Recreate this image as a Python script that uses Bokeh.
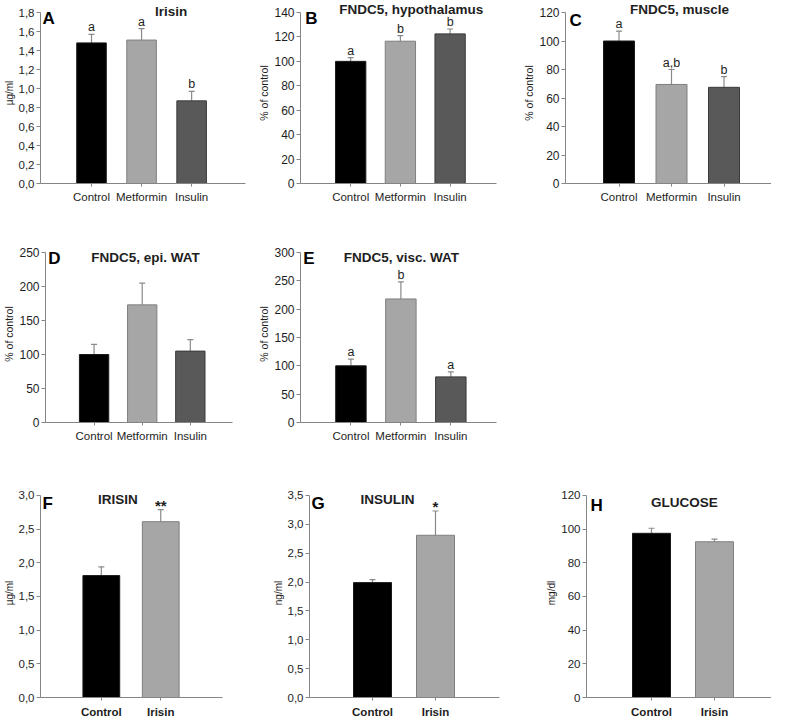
from bokeh.plotting import figure
from bokeh.layouts import column, row
from bokeh.models import (Range1d, FixedTicker, CustomJSTickFormatter, ColumnDataSource,
                          Whisker, TeeHead, Spacer)
from bokeh.core.properties import value
from bokeh.embed import file_html
from bokeh.resources import INLINE

FONT = "Liberation Sans"

# ---------------- data ----------------
cats_treat = ["Control", "Metformin", "Insulin"]
cats_irisin = ["Control", "Irisin"]

a_vals = [1.48, 1.51, 0.87]
a_err = [0.09, 0.12, 0.10]
a_sig = ["a", "a", "b"]

b_vals = [100, 116.5, 122.5]
b_err = [3, 4.5, 4]
b_sig = ["a", "b", "b"]

c_vals = [100, 69.5, 67.5]
c_err = [7, 10.5, 7.5]
c_sig = ["a", "a,b", "b"]

d_vals = [100, 173, 105]
d_err = [15, 32, 17]
d_sig = ["", "", ""]

e_vals = [100, 218, 80.5]
e_err = [12, 30, 9]
e_sig = ["a", "b", "a"]

f_vals = [1.81, 2.61]
f_err = [0.13, 0.18]
f_sig = ["", "**"]

g_vals = [1.99, 2.81]
g_err = [0.05, 0.42]
g_sig = ["", "*"]

h_vals = [97.5, 92.5]
h_err = [3, 1.5]
h_sig = ["", ""]

ticks_a = [0, 0.2, 0.4, 0.6, 0.8, 1.0, 1.2, 1.4, 1.6, 1.8]
ticks_b = [0, 20, 40, 60, 80, 100, 120, 140]
ticks_c = [0, 20, 40, 60, 80, 100, 120]
ticks_d = [0, 50, 100, 150, 200, 250]
ticks_e = [0, 50, 100, 150, 200, 250, 300]
ticks_f = [0, 0.5, 1.0, 1.5, 2.0, 2.5, 3.0]
ticks_g = [0, 0.5, 1.0, 1.5, 2.0, 2.5, 3.0, 3.5]
ticks_h = [0, 20, 40, 60, 80, 100, 120]

fill_treat = ["#000000", "#a6a6a6", "#595959"]
line_treat = ["#1a1a1a", "#7f7f7f", "#3a3a3a"]
fill_irisin = ["#000000", "#a6a6a6"]
line_irisin = ["#1a1a1a", "#7f7f7f"]

AXIS_COLOR = "#858585"
TEXT_COLOR = "#1e1e1e"
ERR_COLOR = "#8a8a8a"

comma_fmt = CustomJSTickFormatter(code="return tick.toFixed(1).replace('.', ',');")


def panel(fig, frame, axis_top, centers, bar_w, cats, vals, errs, sig, ticks,
          ylabel, title, title_pos, letter, letter_pos, fills, lines,
          comma=False, bold_cats=False, tick_size="12px", label_size="10.5px",
          xlab_standoff=4, sig_size="12.5px", sig_bold=False, sig_offset=0):
    fx, fy, fw, fh = fig
    fl, fr, ft, fb = frame
    c0 = centers[0]
    s = centers[1] - centers[0]
    ymax = ticks[-1]

    def dx(px):
        return (px - c0) / s

    def dy(py):
        return ymax * (fb - py) / (fb - axis_top)

    p = figure(width=fw, height=fh,
               x_range=Range1d(dx(fl), dx(fr)), y_range=Range1d(0, dy(ft)),
               min_border_left=fl - fx, min_border_right=fx + fw - fr,
               min_border_top=ft - fy, min_border_bottom=fy + fh - fb,
               output_backend="svg", toolbar_location=None)
    p.outline_line_color = None
    p.xgrid.visible = False
    p.ygrid.visible = False
    p.background_fill_color = "white"
    p.border_fill_color = "white"

    idx = list(range(len(cats)))
    hi = [v + e for v, e in zip(vals, errs)]
    src = ColumnDataSource(dict(x=idx, top=vals, hi=hi, fill=fills, line=lines, sig=sig))

    p.vbar(x="x", top="top", width=bar_w / s, source=src,
           fill_color="fill", line_color="line", line_width=1)

    p.add_layout(Whisker(source=src, base="x", lower="top", upper="hi",
                         line_color=ERR_COLOR, line_width=1.2,
                         upper_head=TeeHead(size=6, line_color=ERR_COLOR, line_width=1.2),
                         lower_head=None))

    p.text(x="x", y="hi", text="sig", source=src, text_align="center",
           text_baseline="bottom", text_font=value(FONT), text_font_size=sig_size,
           text_font_style="bold" if sig_bold else "normal",
           text_color=TEXT_COLOR, y_offset=sig_offset)

    p.text(x=[dx(title_pos[0])], y=[dy(title_pos[1])], text=[title],
           text_align="center", text_baseline="middle", text_font=value(FONT),
           text_font_style="bold", text_font_size="13.5px", text_color=TEXT_COLOR)
    p.text(x=[dx(letter_pos[0])], y=[dy(letter_pos[1])], text=[letter],
           text_align="left", text_baseline="middle", text_font=value(FONT),
           text_font_style="bold", text_font_size="17px", text_color="#000000")

    # y axis
    ya = p.yaxis[0]
    ya.ticker = FixedTicker(ticks=ticks)
    ya.bounds = (0, ymax)
    if comma:
        ya.formatter = comma_fmt
    ya.axis_line_color = AXIS_COLOR
    ya.major_tick_line_color = AXIS_COLOR
    ya.major_tick_out = 4
    ya.major_tick_in = 0
    ya.minor_tick_line_color = None
    ya.major_label_standoff = 2
    ya.major_label_text_font = FONT
    ya.major_label_text_font_size = tick_size
    ya.major_label_text_color = TEXT_COLOR
    ya.axis_label = ylabel
    ya.axis_label_standoff = 1
    ya.axis_label_text_font = FONT
    ya.axis_label_text_font_size = label_size
    ya.axis_label_text_font_style = "normal"
    ya.axis_label_text_color = TEXT_COLOR

    # x axis
    xa = p.xaxis[0]
    xa.ticker = FixedTicker(ticks=idx)
    xa.major_label_overrides = {i: c for i, c in zip(idx, cats)}
    xa.axis_line_color = AXIS_COLOR
    xa.major_tick_line_color = AXIS_COLOR
    xa.major_tick_out = 3
    xa.major_tick_in = 0
    xa.minor_tick_line_color = None
    xa.major_label_standoff = xlab_standoff
    xa.major_label_text_font = FONT
    xa.major_label_text_font_size = "11.5px"
    xa.major_label_text_font_style = "bold" if bold_cats else "normal"
    xa.major_label_text_color = TEXT_COLOR
    return p


# page coordinates: x origin at 8 (left margin), y origin at 0
pA = panel((8, 0, 255, 230), (38, 253, 2, 183), 12, [91.5, 144, 196.5], 31,
           cats_treat, a_vals, a_err, a_sig, ticks_a, "µg/ml", "Irisin", (175, 11),
           "A", (40, 18), fill_treat, line_treat, comma=True, tick_size="11.5px",
           label_size="10px")
pB = panel((263, 0, 261, 230), (297, 504, 2, 183), 12, [350, 402.5, 455], 32,
           cats_treat, b_vals, b_err, b_sig, ticks_b, "% of control", "FNDC5, hypothalamus",
           (414, 9), "B", (302, 18), fill_treat, line_treat)
pC = panel((524, 0, 255, 230), (573, 779, 2, 183), 12, [626.5, 679, 731.5], 31,
           cats_treat, c_vals, c_err, c_sig, ticks_c, "% of control", "FNDC5, muscle",
           (687, 9), "C", (577, 20), fill_treat, line_treat)

pD = panel((8, 230, 255, 250), (36, 240, 245, 422), 252, [89, 141.5, 194], 32,
           cats_treat, d_vals, d_err, d_sig, ticks_d, "% of control", "FNDC5, epi. WAT",
           (145, 257), "D", (39, 258), fill_treat, line_treat)
pE = panel((263, 230, 261, 250), (298, 504, 245, 422), 252, [351, 403.5, 456], 32,
           cats_treat, e_vals, e_err, e_sig, ticks_e, "% of control", "FNDC5, visc. WAT",
           (404, 257), "E", (301, 258), fill_treat, line_treat)
spacer = Spacer(width=255, height=250)

pF = panel((8, 480, 255, 240), (37, 230, 488, 699), 495, [101.5, 164.5], 39,
           cats_irisin, f_vals, f_err, f_sig, ticks_f, "µg/ml", "IRISIN", (119, 499),
           "F", (39, 503), fill_irisin, line_irisin, comma=True, bold_cats=True,
           tick_size="11.5px", label_size="10px", xlab_standoff=5,
           sig_size="15px", sig_bold=True, sig_offset=4)
pG = panel((263, 480, 261, 240), (317, 507, 488, 699), 495, [380, 443], 38,
           cats_irisin, g_vals, g_err, g_sig, ticks_g, "ng/ml", "INSULIN", (395, 499),
           "G", (319, 503), fill_irisin, line_irisin, comma=True, bold_cats=True,
           tick_size="11.5px", label_size="10px", xlab_standoff=5,
           sig_size="15px", sig_bold=True, sig_offset=4)
pH = panel((524, 480, 255, 240), (594, 779, 488, 699), 495, [659, 722], 38,
           cats_irisin, h_vals, h_err, h_sig, ticks_h, "mg/dl", "GLUCOSE", (692, 502),
           "H", (598, 505), fill_irisin, line_irisin, bold_cats=True,
           tick_size="11.5px", label_size="10px", xlab_standoff=5)

layout = column(row(pA, pB, pC, spacing=0),
                row(pD, pE, spacer, spacing=0),
                row(pF, pG, pH, spacing=0), spacing=0)

open("out.html", "w").write(file_html(layout, INLINE))
